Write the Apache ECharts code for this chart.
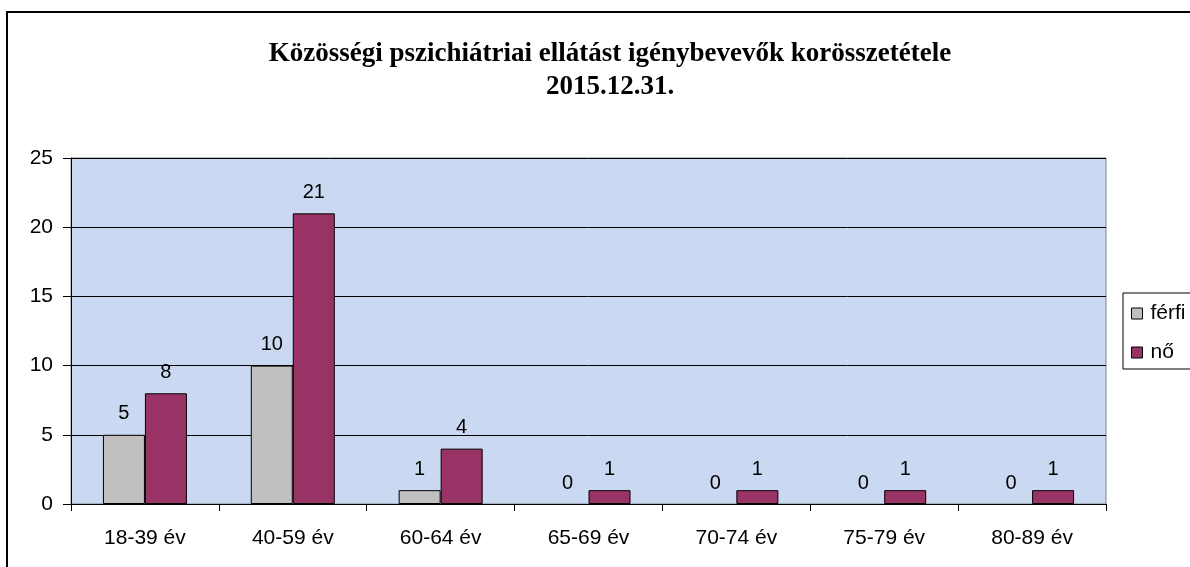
<!DOCTYPE html>
<html>
<head>
<meta charset="utf-8">
<script src="https://cdn.jsdelivr.net/npm/echarts@6/dist/echarts.min.js"></script>
<style>
  html, body { margin: 0; padding: 0; background: #fff; }
  #chart { width: 1190px; height: 567px; }
</style>
</head>
<body>
<div id="chart"></div>
<script>
var categories = ['18-39 év', '40-59 év', '60-64 év', '65-69 év', '70-74 év', '75-79 év', '80-89 év'];
var ferfi = [5, 10, 1, 0, 0, 0, 0];
var no = [8, 21, 4, 1, 1, 1, 1];
var seriesNames = ['férfi', 'nő'];

var chartDom = document.getElementById('chart');
var myChart = echarts.init(chartDom);
var option;

var labelStyle = {
  show: true,
  position: 'top',
  color: '#000',
  fontFamily: 'Liberation Sans, Arial',
  fontSize: 20,
  distance: 11
};

// zero-height bars get no outline, like in the original
function barData(values) {
  return values.map(function (v) {
    return v === 0 ? { value: v, itemStyle: { borderWidth: 0 } } : v;
  });
}

option = {
  animation: false,
  title: {
    text: 'Közösségi pszichiátriai ellátást igénybevevők korösszetétele\n2015.12.31.',
    left: 605,
    textAlign: 'center',
    top: 33,
    textStyle: {
      fontFamily: 'Liberation Serif, Times New Roman',
      fontWeight: 'bold',
      fontSize: 27,
      lineHeight: 33,
      color: '#000'
    }
  },
  graphic: [
    {
      type: 'rect',
      shape: { x: 7, y: 12, width: 1250, height: 620 },
      style: { fill: null, stroke: '#000', lineWidth: 2 },
      z: 100
    }
  ],
  legend: {
    orient: 'vertical',
    left: 1123,
    top: 293,
    icon: 'rect',
    itemWidth: 11,
    itemHeight: 11,
    itemGap: 18,
    padding: [10, 60, 6, 8],
    borderColor: '#000',
    borderWidth: 1,
    itemStyle: { borderColor: '#000', borderWidth: 1 },
    textStyle: { fontFamily: 'Liberation Sans, Arial', fontSize: 21, color: '#000', padding: [0, 0, 0, 3] },
    data: seriesNames
  },
  grid: {
    left: 71,
    top: 158,
    right: 84,
    bottom: 63,
    show: true,
    backgroundColor: '#cbd8f1',
    borderColor: '#808080',
    borderWidth: 1
  },
  xAxis: {
    type: 'category',
    data: categories,
    axisLine: { lineStyle: { color: '#000', width: 1 } },
    axisTick: { show: true, length: 7, alignWithLabel: false, lineStyle: { color: '#000' } },
    axisLabel: { color: '#000', fontFamily: 'Liberation Sans, Arial', fontSize: 21, margin: 24 },
    splitLine: { show: false }
  },
  yAxis: {
    type: 'value',
    min: 0,
    max: 25,
    interval: 5,
    axisLine: { show: true, lineStyle: { color: '#000', width: 1 } },
    axisTick: { show: true, length: 8, lineStyle: { color: '#000' } },
    axisLabel: { color: '#000', fontFamily: 'Liberation Sans, Arial', fontSize: 21, margin: 18 },
    splitLine: { show: true, lineStyle: { color: '#000', width: 1 } }
  },
  series: [
    {
      name: seriesNames[0],
      type: 'bar',
      data: barData(ferfi),
      barWidth: 42,
      barGap: '0%',
      itemStyle: { color: '#c0c0c0', borderColor: '#000', borderWidth: 1 },
      label: labelStyle
    },
    {
      name: seriesNames[1],
      type: 'bar',
      data: barData(no),
      barWidth: 42,
      barGap: '0%',
      itemStyle: { color: '#993366', borderColor: '#000', borderWidth: 1 },
      label: labelStyle
    }
  ]
};

option && myChart.setOption(option);
</script>
</body>
</html>
